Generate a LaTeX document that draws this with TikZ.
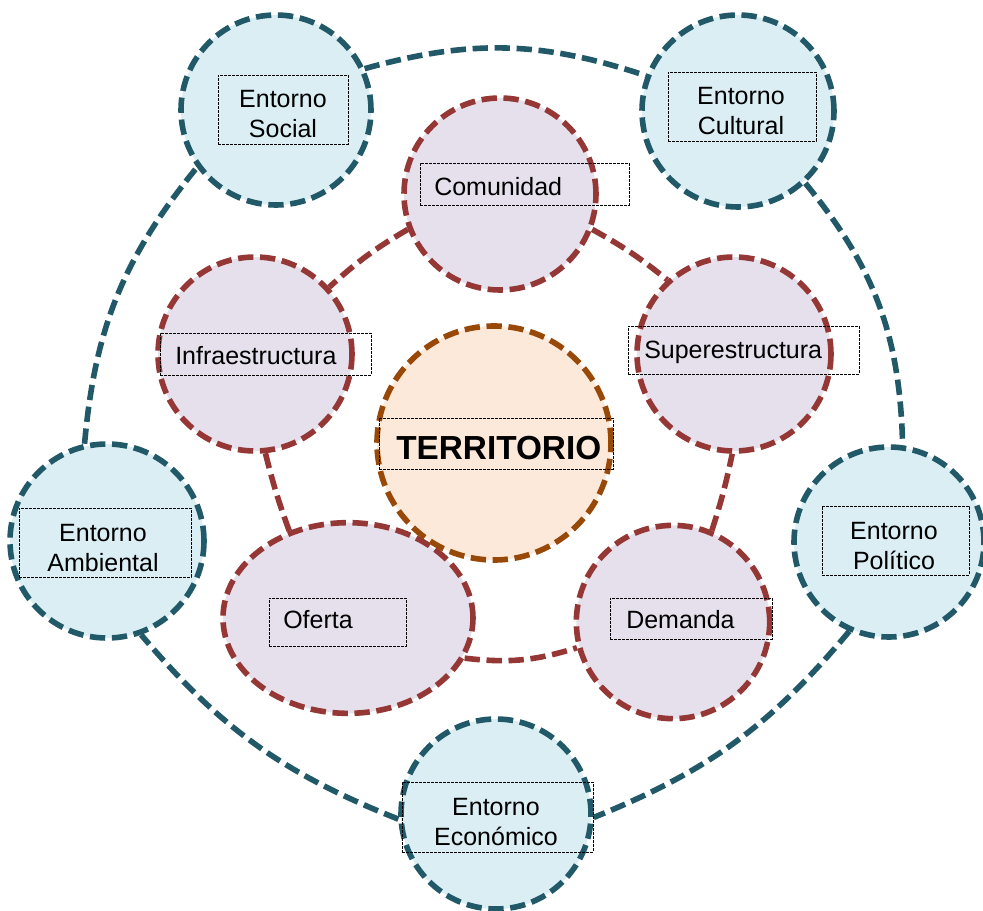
\documentclass[tikz,border=0pt]{standalone}
\usepackage{fontspec}
\setmainfont{Liberation Sans}
\usetikzlibrary{shapes.geometric}
\definecolor{outerline}{RGB}{33,89,104}
\definecolor{outerfill}{RGB}{218,238,243}
\definecolor{innerline}{RGB}{149,55,53}
\definecolor{innerfill}{RGB}{229,224,236}
\definecolor{terline}{RGB}{152,72,7}
\definecolor{terfill}{RGB}{253,233,217}
\tikzset{
  dashline/.style={line width=4.2pt, dash pattern=on 11.5pt off 5pt},
  outerc/.style={circle, dashline, draw=outerline, fill=outerfill, inner sep=0pt},
  innerc/.style={circle, dashline, draw=innerline, fill=innerfill, inner sep=0pt},
  outerlink/.style={dashline, draw=outerline},
  innerlink/.style={dashline, draw=innerline},
  tbox/.style={rectangle, draw=black, line width=0.75pt, dash pattern=on 2pt off 1pt, inner sep=0pt},
  lbl/.style={font=\fontsize{18.75}{22.5}\selectfont, align=center, inner sep=0pt, text=black},
  lbls/.style={font=\fontsize{18.75}{22.5}\selectfont, inner sep=0pt, anchor=base west, text=black},
}
\begin{document}
\begin{tikzpicture}[x=0.75pt, y=-0.75pt]
\useasboundingbox (0,0) rectangle (983,911);

% outer circles
\node[outerc, minimum size=142.5pt] (soc) at (276,110) {};
\node[outerc, minimum size=144pt] (cul) at (738,111) {};
\node[outerc, minimum size=145.5pt] (amb) at (107,541) {};
\node[outerc, minimum size=142.5pt] (pol) at (889,542) {};
\node[outerc, minimum size=142.5pt] (eco) at (496,814) {};

% inner circles
\node[innerc, minimum size=144pt] (com) at (500,194) {};
\node[innerc, minimum size=145.5pt] (inf) at (255,354) {};
\node[innerc, minimum size=145.5pt] (sup) at (734,354) {};
\node[ellipse, dashline, draw=innerline, fill=innerfill, inner sep=0pt,
      minimum width=187.5pt, minimum height=143pt] (ofe) at (348,618) {};
\node[innerc, minimum size=145pt] (dem) at (673,622) {};
\node[circle, dashline, draw=terline, fill=terfill, inner sep=0pt,
      minimum size=175.5pt] (ter) at (494,443) {};

% outer connectors
\draw[outerlink] (soc.25) to[bend left=17] (cul.159);
\draw[outerlink] (cul.-47) to[bend left=19] (pol.82);
\draw[outerlink] (pol.-114) to[bend left=14] (eco.-2);
\draw[outerlink] (eco.183) to[bend left=14] (amb.-70);
\draw[outerlink] (amb.103) to[bend left=17] (soc.216);

% inner connectors
\draw[innerlink] (com.-21) to[bend left=5] (sup.132);
\draw[innerlink] (com.201) to[bend right=6] (inf.42);
\draw[innerlink] (inf.-84) to[bend right=3] (ofe.124);
\draw[innerlink] (ofe.-19) to[bend right=12] (dem.195);
\draw[innerlink] (dem.67) to[bend right=3] (sup.-91);

% text boxes
\node[tbox, minimum width=97.5pt, minimum height=51.75pt] (bsoc) at (283,109.5) {};
\node[tbox, minimum width=111pt, minimum height=51.75pt] (bcul) at (742,106.5) {};
\node[tbox, minimum width=129pt, minimum height=51.75pt] (bamb) at (105,542.5) {};
\node[tbox, minimum width=110.25pt, minimum height=51.75pt] (bpol) at (895.5,540.5) {};
\node[tbox, minimum width=143.25pt, minimum height=52.5pt] (beco) at (497.5,817) {};
\node[tbox, minimum width=156.75pt, minimum height=31.5pt] (bcom) at (524.5,184) {};
\node[tbox, minimum width=173.25pt, minimum height=36pt] (bsup) at (743.5,350) {};
\node[tbox, minimum width=158.25pt, minimum height=31.5pt] (binf) at (265.5,354) {};
\node[tbox, minimum width=175.5pt, minimum height=38.25pt] (bter) at (496,443.5) {};
\node[tbox, minimum width=102.75pt, minimum height=36pt] (bofe) at (337.5,622) {};
\node[tbox, minimum width=121.5pt, minimum height=30.75pt] (bdem) at (691,618.5) {};

% labels
\node[lbl] (tsoc) at (283,114.5) {Entorno\\Social};
\node[lbl] (tcul) at (741,111) {Entorno\\Cultural};
\node[lbl] (tamb) at (103,548) {Entorno\\Ambiental};
\node[lbl] (tpol) at (894,546.5) {Entorno\\Político};
\node[lbl] (teco) at (496,822) {Entorno\\Económico};
\node[lbls] (tcom) at (434,195) {Comunidad};
\node[lbls] (tsup) at (644,358) {Superestructura};
\node[lbls] (tinf) at (175,364) {Infraestructura};
\node[lbls, font=\fontsize{25}{30}\selectfont\bfseries] (tter) at (396,459) {TERRITORIO};
\node[lbls] (tofe) at (283,628) {Oferta};
\node[lbls] (tdem) at (626,628) {Demanda};
\end{tikzpicture}
\end{document}
